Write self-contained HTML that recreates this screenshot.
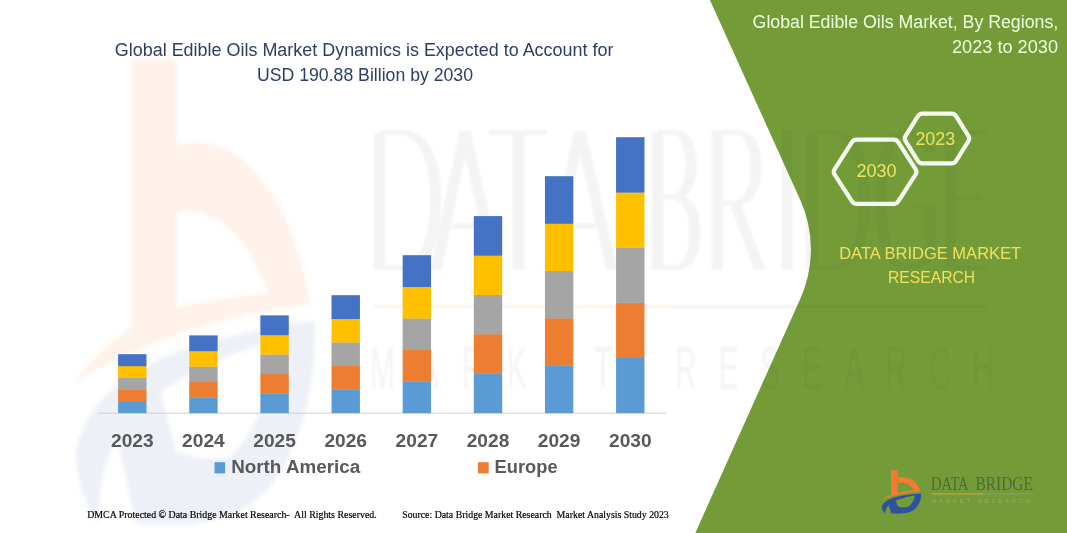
<!DOCTYPE html>
<html><head><meta charset="utf-8"><title>Global Edible Oils Market</title>
<style>
html,body{margin:0;padding:0;background:#fff;}
body{width:1067px;height:533px;overflow:hidden;font-family:"Liberation Sans",sans-serif;}
svg{display:block;}
text{font-family:"Liberation Sans",sans-serif;}
.serif{font-family:"Liberation Serif",serif;}
</style></head><body>
<svg width="1067" height="533" viewBox="0 0 1067 533">
<defs>
<filter id="soft" color-interpolation-filters="sRGB" x="-5%" y="-5%" width="110%" height="110%"><feGaussianBlur stdDeviation="2.2"/></filter>
<filter id="soft1" color-interpolation-filters="sRGB" x="-5%" y="-5%" width="110%" height="110%"><feGaussianBlur stdDeviation="1"/></filter>
<g id="icon">
<path fill="#f47b2f" fill-rule="evenodd" d="M16,5.2 H22.6 V12.4 C32,10.6 42,15 45.6,26.2 C34,27.5 18,30 6.2,35 C10,32 14,30.5 16,29.8 Z M22.6,17.8 C29,16.8 35.5,19.2 38.8,25 C33,25.8 27,26.8 22.6,27.9 Z"/>
<path fill="#2f52a0" fill-rule="evenodd" d="M6.7,41.5 C9,36 16,32.5 28,30.5 C36,29.2 42,28.8 46,28.8 C46.5,34 44.5,40 40,44 C35,48.3 27,49 16.5,48.5 L13.5,40.5 C11.5,42.5 10.5,45 10.3,48.5 C8,46.5 6.5,44 6.7,41.5 Z M20.6,35.6 C27,33 34,31.2 39.7,30.4 C39.3,35 36.5,40 32,42.3 C29,42.6 26,42.4 23.2,41.8 Z"/>
</g>
<g id="bigicon">
<path fill="#f47b2f" fill-opacity="0.10" fill-rule="evenodd" d="M15.9,5.06 H23.3 V13.2 C32,11.6 42,16.5 45.4,28.1 C36,28.6 20,30.5 6.2,35.5 C10,32.6 14,30.9 15.9,30.1 Z M23.3,19.4 C28,19 34.5,20.5 38.3,27.0 C33,27.3 27,27.8 23.3,28.3 Z"/>
<path fill="#2f52a0" fill-opacity="0.085" fill-rule="evenodd" d="M6.7,41.5 C9,36.6 16,33.6 28,31.6 C36,30.4 42,29.8 46,29.6 C46.5,34.5 44.5,40 40,44 C35,48.3 27,49 16.5,48.5 L13.5,40.5 C11.5,42.5 10.5,45 10.3,48.5 C8,46.5 6.5,44 6.7,41.5 Z M20.6,36.2 C27,33.8 34,32.2 39.7,31.4 C39.3,35.5 36.5,40 32,42.3 C29,42.6 26,42.4 23.2,41.8 Z"/>
</g>
</defs>
<rect width="1067" height="533" fill="#ffffff"/>

<!-- watermark -->
<g filter="url(#soft)"><use href="#bigicon" transform="translate(35.3,4.4) scale(6.07,10.7)"/></g>
<g id="wmtext" fill="#303030" opacity="0.052" filter="url(#soft1)">
<path transform="scale(2.2,1)" d="M 172.50 132.5 V 267.5 H 181.82 C 193.18 267.5 197.95 240 197.95 200 C 197.95 160 193.18 132.5 181.82 132.5 H 172.50 M 198.18 270 L 211.36 131 L 225.45 270 M 202.27 226 H 221.36 M 222.27 132.5 H 248.64 M 235.68 132.5 V 270 M 249.55 270 L 263.64 131 L 278.18 270 M 253.64 226 H 274.09 M 298.86 132.5 V 267.5 H 307.27 C 313.64 267.5 315.91 250 315.91 232 C 315.91 212 312.73 198 306.36 197 H 298.86 M 306.36 197 C 311.82 196 314.09 182 314.09 165 C 314.09 146 311.82 132.5 305.45 132.5 H 298.86 M 326.14 270 V 132.5 H 334.09 C 340.91 132.5 343.64 148 343.64 167 C 343.64 188 340.91 203 334.09 203 H 326.14 M 334.09 203 L 345.45 270 M 357.73 130 V 270 M 368.86 132.5 V 267.5 H 377.27 C 388.64 267.5 392.95 240 392.95 200 C 392.95 160 388.64 132.5 377.27 132.5 H 368.86 M 422.73 152 C 420.45 139 415.91 132.5 411.82 132.5 C 403.64 132.5 400.45 165 400.45 200 C 400.45 238 404.09 267.5 412.27 267.5 C 417.27 267.5 420.91 262 422.73 255 V 206 H 414.55 M 448.18 132.5 H 432.05 V 267.5 H 449.09 M 432.05 198 H 446.36" fill="none" stroke="#303030" stroke-width="5"/>
<text transform="translate(370,389) scale(1,2.03)" font-size="30" textLength="242" lengthAdjust="spacing">MARKET</text>
<text transform="translate(675,389) scale(1,2.03)" font-size="30" textLength="319" lengthAdjust="spacing">RESEARCH</text>
</g>
<rect x="373" y="304.5" width="305" height="4" fill="#f47b2f" opacity="0.07"/>
<rect x="678" y="304.5" width="120" height="4" fill="#2f52a0" opacity="0.05"/>

<!-- green panel -->
<path d="M709.9,0 L800.26,199.9 A120,120 0 0 1 800.42,298.38 L695.3,533 L1067,533 L1067,0 Z" fill="#739c39"/>
<clipPath id="gclip"><path d="M709.9,0 L800.26,199.9 A120,120 0 0 1 800.42,298.38 L695.3,533 L1067,533 L1067,0 Z"/></clipPath>
<g clip-path="url(#gclip)" opacity="0.028" fill="#101010">
<path transform="scale(2.2,1)" d="M 298.86 132.5 V 267.5 H 307.27 C 313.64 267.5 315.91 250 315.91 232 C 315.91 212 312.73 198 306.36 197 H 298.86 M 306.36 197 C 311.82 196 314.09 182 314.09 165 C 314.09 146 311.82 132.5 305.45 132.5 H 298.86 M 326.14 270 V 132.5 H 334.09 C 340.91 132.5 343.64 148 343.64 167 C 343.64 188 340.91 203 334.09 203 H 326.14 M 334.09 203 L 345.45 270 M 357.73 130 V 270 M 368.86 132.5 V 267.5 H 377.27 C 388.64 267.5 392.95 240 392.95 200 C 392.95 160 388.64 132.5 377.27 132.5 H 368.86 M 422.73 152 C 420.45 139 415.91 132.5 411.82 132.5 C 403.64 132.5 400.45 165 400.45 200 C 400.45 238 404.09 267.5 412.27 267.5 C 417.27 267.5 420.91 262 422.73 255 V 206 H 414.55 M 448.18 132.5 H 432.05 V 267.5 H 449.09 M 432.05 198 H 446.36" fill="none" stroke="#101010" stroke-width="5"/>
<text transform="translate(675,389) scale(1,2.03)" font-size="30" textLength="319" lengthAdjust="spacing">RESEARCH</text>
<rect x="790" y="305" width="198" height="3"/>
</g>

<!-- chart -->
<line x1="97.8" y1="413.2" x2="666" y2="413.2" stroke="#d0d0d0" stroke-width="1"/>
<rect x="118.10" y="401.08" width="28.4" height="12.02" fill="#5b9bd5"/>
<rect x="118.10" y="389.36" width="28.4" height="12.02" fill="#ed7d31"/>
<rect x="118.10" y="377.64" width="28.4" height="12.02" fill="#a5a5a5"/>
<rect x="118.10" y="365.92" width="28.4" height="12.02" fill="#ffc000"/>
<rect x="118.10" y="354.20" width="28.4" height="12.02" fill="#4472c4"/>
<rect x="189.24" y="397.32" width="28.4" height="15.78" fill="#5b9bd5"/>
<rect x="189.24" y="381.84" width="28.4" height="15.78" fill="#ed7d31"/>
<rect x="189.24" y="366.36" width="28.4" height="15.78" fill="#a5a5a5"/>
<rect x="189.24" y="350.88" width="28.4" height="15.78" fill="#ffc000"/>
<rect x="189.24" y="335.40" width="28.4" height="15.78" fill="#4472c4"/>
<rect x="260.38" y="393.32" width="28.4" height="19.78" fill="#5b9bd5"/>
<rect x="260.38" y="373.84" width="28.4" height="19.78" fill="#ed7d31"/>
<rect x="260.38" y="354.36" width="28.4" height="19.78" fill="#a5a5a5"/>
<rect x="260.38" y="334.88" width="28.4" height="19.78" fill="#ffc000"/>
<rect x="260.38" y="315.40" width="28.4" height="19.78" fill="#4472c4"/>
<rect x="331.52" y="389.28" width="28.4" height="23.82" fill="#5b9bd5"/>
<rect x="331.52" y="365.76" width="28.4" height="23.82" fill="#ed7d31"/>
<rect x="331.52" y="342.24" width="28.4" height="23.82" fill="#a5a5a5"/>
<rect x="331.52" y="318.72" width="28.4" height="23.82" fill="#ffc000"/>
<rect x="331.52" y="295.20" width="28.4" height="23.82" fill="#4472c4"/>
<rect x="402.66" y="381.28" width="28.4" height="31.82" fill="#5b9bd5"/>
<rect x="402.66" y="349.76" width="28.4" height="31.82" fill="#ed7d31"/>
<rect x="402.66" y="318.24" width="28.4" height="31.82" fill="#a5a5a5"/>
<rect x="402.66" y="286.72" width="28.4" height="31.82" fill="#ffc000"/>
<rect x="402.66" y="255.20" width="28.4" height="31.82" fill="#4472c4"/>
<rect x="473.80" y="373.46" width="28.4" height="39.64" fill="#5b9bd5"/>
<rect x="473.80" y="334.12" width="28.4" height="39.64" fill="#ed7d31"/>
<rect x="473.80" y="294.78" width="28.4" height="39.64" fill="#a5a5a5"/>
<rect x="473.80" y="255.44" width="28.4" height="39.64" fill="#ffc000"/>
<rect x="473.80" y="216.10" width="28.4" height="39.64" fill="#4472c4"/>
<rect x="544.94" y="365.48" width="28.4" height="47.62" fill="#5b9bd5"/>
<rect x="544.94" y="318.16" width="28.4" height="47.62" fill="#ed7d31"/>
<rect x="544.94" y="270.84" width="28.4" height="47.62" fill="#a5a5a5"/>
<rect x="544.94" y="223.52" width="28.4" height="47.62" fill="#ffc000"/>
<rect x="544.94" y="176.20" width="28.4" height="47.62" fill="#4472c4"/>
<rect x="616.08" y="357.68" width="28.4" height="55.42" fill="#5b9bd5"/>
<rect x="616.08" y="302.56" width="28.4" height="55.42" fill="#ed7d31"/>
<rect x="616.08" y="247.44" width="28.4" height="55.42" fill="#a5a5a5"/>
<rect x="616.08" y="192.32" width="28.4" height="55.42" fill="#ffc000"/>
<rect x="616.08" y="137.20" width="28.4" height="55.42" fill="#4472c4"/>
<g font-weight="bold" font-size="18" fill="#595959">
<text x="132.3" y="447.2" text-anchor="middle" textLength="42.6" lengthAdjust="spacingAndGlyphs">2023</text>
<text x="203.4" y="447.2" text-anchor="middle" textLength="42.6" lengthAdjust="spacingAndGlyphs">2024</text>
<text x="274.6" y="447.2" text-anchor="middle" textLength="42.6" lengthAdjust="spacingAndGlyphs">2025</text>
<text x="345.7" y="447.2" text-anchor="middle" textLength="42.6" lengthAdjust="spacingAndGlyphs">2026</text>
<text x="416.9" y="447.2" text-anchor="middle" textLength="42.6" lengthAdjust="spacingAndGlyphs">2027</text>
<text x="488.0" y="447.2" text-anchor="middle" textLength="42.6" lengthAdjust="spacingAndGlyphs">2028</text>
<text x="559.1" y="447.2" text-anchor="middle" textLength="42.6" lengthAdjust="spacingAndGlyphs">2029</text>
<text x="630.3" y="447.2" text-anchor="middle" textLength="42.6" lengthAdjust="spacingAndGlyphs">2030</text>
<text x="231.2" y="472.9" textLength="129" lengthAdjust="spacingAndGlyphs">North America</text>
<text x="494.6" y="472.9" textLength="63" lengthAdjust="spacingAndGlyphs">Europe</text>
</g>
<rect x="214.5" y="462.2" width="10.6" height="11.2" fill="#5b9bd5"/>
<rect x="478" y="462.2" width="10.7" height="11.2" fill="#ed7d31"/>

<!-- titles -->
<g font-size="17.6" fill="#2c3d66">
<text x="114.8" y="55.9" textLength="498.6" lengthAdjust="spacingAndGlyphs">Global Edible Oils Market Dynamics is Expected to Account for</text>
<text x="257" y="80.6" textLength="216" lengthAdjust="spacingAndGlyphs">USD 190.88 Billion by 2030</text>
</g>
<g font-size="18" fill="#efffdc">
<text x="752.6" y="28.2" textLength="305.6" lengthAdjust="spacingAndGlyphs">Global Edible Oils Market, By Regions,</text>
<text x="952" y="52.7" textLength="106" lengthAdjust="spacingAndGlyphs">2023 to 2030</text>
</g>

<!-- hexagons -->
<g fill="none" stroke="#f6fbef" stroke-width="4.2" stroke-linejoin="round">
<path d="M834.53,174.32 Q832.90,171.80 834.53,169.28 L851.97,142.22 Q853.60,139.70 856.60,139.70 L893.60,139.70 Q896.60,139.70 898.23,142.22 L915.67,169.28 Q917.30,171.80 915.67,174.32 L898.23,201.38 Q896.60,203.90 893.60,203.90 L856.60,203.90 Q853.60,203.90 851.97,201.38 Z"/>
<path d="M905.59,141.05 Q904.00,138.50 905.59,135.95 L917.91,116.15 Q919.50,113.60 922.50,113.60 L951.50,113.60 Q954.50,113.60 956.09,116.15 L968.41,135.95 Q970.00,138.50 968.41,141.05 L956.09,160.85 Q954.50,163.40 951.50,163.40 L922.50,163.40 Q919.50,163.40 917.91,160.85 Z"/>
</g>
<g font-size="17.6" fill="#ece562">
<text x="856.4" y="176.8" textLength="40.2" lengthAdjust="spacingAndGlyphs">2030</text>
<text x="915.4" y="144.8" textLength="39.8" lengthAdjust="spacingAndGlyphs">2023</text>
</g>
<g font-size="17" fill="#f0e062">
<text x="839.2" y="258.9" textLength="182" lengthAdjust="spacingAndGlyphs">DATA BRIDGE MARKET</text>
<text x="888" y="282.9" textLength="87.2" lengthAdjust="spacingAndGlyphs">RESEARCH</text>
</g>

<!-- logo -->
<use href="#icon" transform="translate(875,465)"/>
<g fill="#4f6a38" class="serif">
<text class="serif" x="931.0" y="490.1" font-size="19.4" textLength="37.6" lengthAdjust="spacingAndGlyphs">DATA</text>
<text class="serif" x="975.4" y="490.1" font-size="19.4" textLength="57.6" lengthAdjust="spacingAndGlyphs">BRIDGE</text>
</g>
<rect x="931.5" y="493.3" width="51.7" height="1.2" fill="#c9a43a"/>
<rect x="983.2" y="493.3" width="50.7" height="1.2" fill="#7e9f7c"/>
<text x="931.5" y="503.2" font-size="5.4" fill="#93ad78" textLength="98.5" lengthAdjust="spacing">MARKET RESEARCH</text>

<!-- footer -->
<g class="serif" font-size="9.4" fill="#000" stroke="#000" stroke-width="0.18">
<text class="serif" x="87.2" y="518.1" textLength="289.5" lengthAdjust="spacingAndGlyphs" xml:space="preserve">DMCA Protected © Data Bridge Market Research-  All Rights Reserved.</text>
<text class="serif" x="402.2" y="518.1" textLength="266.6" lengthAdjust="spacingAndGlyphs" xml:space="preserve">Source: Data Bridge Market Research  Market Analysis Study 2023</text>
</g>
</svg>
</body></html>
